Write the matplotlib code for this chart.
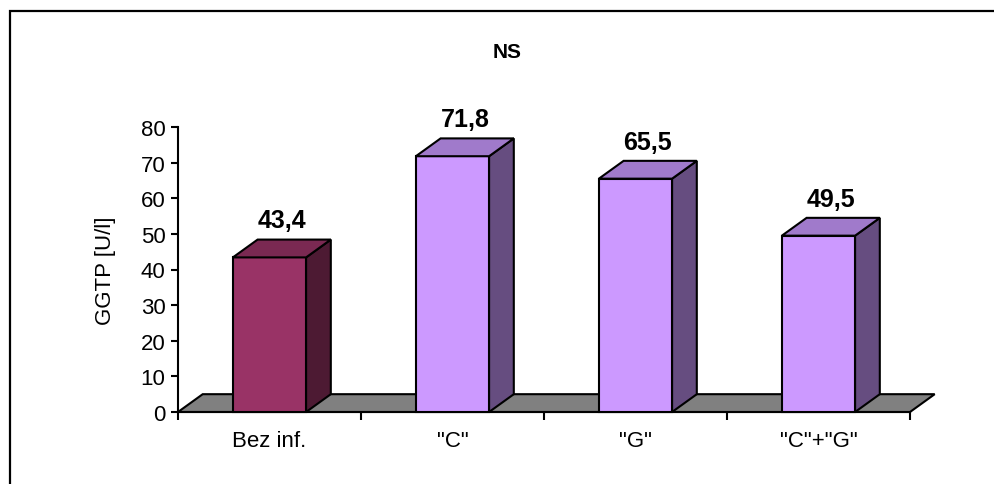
import matplotlib.pyplot as plt
from matplotlib.patches import Polygon, Rectangle

plt.rcParams.update({"font.family": ["Liberation Sans", "DejaVu Sans"]})

categories = ['Bez inf.', '"C"', '"G"', '"C"+"G"']
values = [43.4, 71.8, 65.5, 49.5]
value_labels = ["43,4", "71,8", "65,5", "49,5"]
yticks = [0, 10, 20, 30, 40, 50, 60, 70, 80]

front_colors = ["#993366", "#CC99FF", "#CC99FF", "#CC99FF"]
top_colors = ["#7A2952", "#A07ACB", "#A07ACB", "#A07ACB"]
side_colors = ["#4D1A33", "#664D80", "#664D80", "#664D80"]

bar_w = 0.40
ddx = 0.135   # depth offset in category units
ddy = 5.0     # depth offset in value units

fig = plt.figure(figsize=(9.94, 4.85), dpi=100)
ax = fig.add_axes([178 / 994, 72 / 485, 732 / 994, 285 / 485])

n = len(categories)
x0, x1 = -0.5, n - 0.5

# floor
floor = Polygon([(x0, 0), (x1, 0), (x1 + ddx, ddy), (x0 + ddx, ddy)],
                closed=True, facecolor="#808080", edgecolor="black",
                linewidth=1.5, clip_on=False, zorder=1)
ax.add_patch(floor)

for i, v in enumerate(values):
    l = i - bar_w / 2
    r = i + bar_w / 2
    ax.bar(i, v, width=bar_w, color=front_colors[i], edgecolor="black",
           linewidth=1.5, zorder=3, clip_on=False)
    side = Polygon([(r, 0), (r + ddx, ddy), (r + ddx, v + ddy), (r, v)],
                   closed=True, facecolor=side_colors[i], edgecolor="black",
                   linewidth=1.5, clip_on=False, zorder=3)
    top = Polygon([(l, v), (r, v), (r + ddx, v + ddy), (l + ddx, v + ddy)],
                  closed=True, facecolor=top_colors[i], edgecolor="black",
                  linewidth=1.5, clip_on=False, zorder=3)
    ax.add_patch(side)
    ax.add_patch(top)
    ax.text(i + ddx / 2, v + ddy + 2.0, value_labels[i], ha="center",
            va="bottom", fontsize=18, fontweight="bold", zorder=4)

ax.set_xlim(x0, x1)
ax.set_ylim(0, 80)
ax.set_yticks(yticks)
ax.set_xticks(range(n))
ax.set_xticklabels(categories)
ax.set_xticks([x0 + k for k in range(n + 1)], minor=True)
ax.tick_params(axis="x", which="major", length=0, pad=13, labelsize=16)
ax.tick_params(axis="x", which="minor", length=6, width=1.5, direction="out")
ax.tick_params(axis="y", length=5, width=1.5, direction="out", pad=4,
               labelsize=16)

for s in ["top", "right"]:
    ax.spines[s].set_visible(False)
ax.spines["left"].set_linewidth(1.5)
ax.spines["bottom"].set_linewidth(1.5)
ax.spines["bottom"].set_zorder(2)
ax.patch.set_visible(False)

fig.text(106 / 994, 1 - 271 / 485, "GGTP [U/l]", rotation=90, ha="center",
         va="center", fontsize=16)
fig.text(507 / 994, 1 - 53 / 485, "NS", ha="center", va="center",
         fontsize=15, fontweight="bold")

fig.patches.append(Rectangle((9.5 / 994, -0.1), 1.0, 1 - 12 / 485 + 0.1,
                             transform=fig.transFigure, fill=False,
                             edgecolor="black", linewidth=1.6))

fig.savefig("out.png", dpi=100)
